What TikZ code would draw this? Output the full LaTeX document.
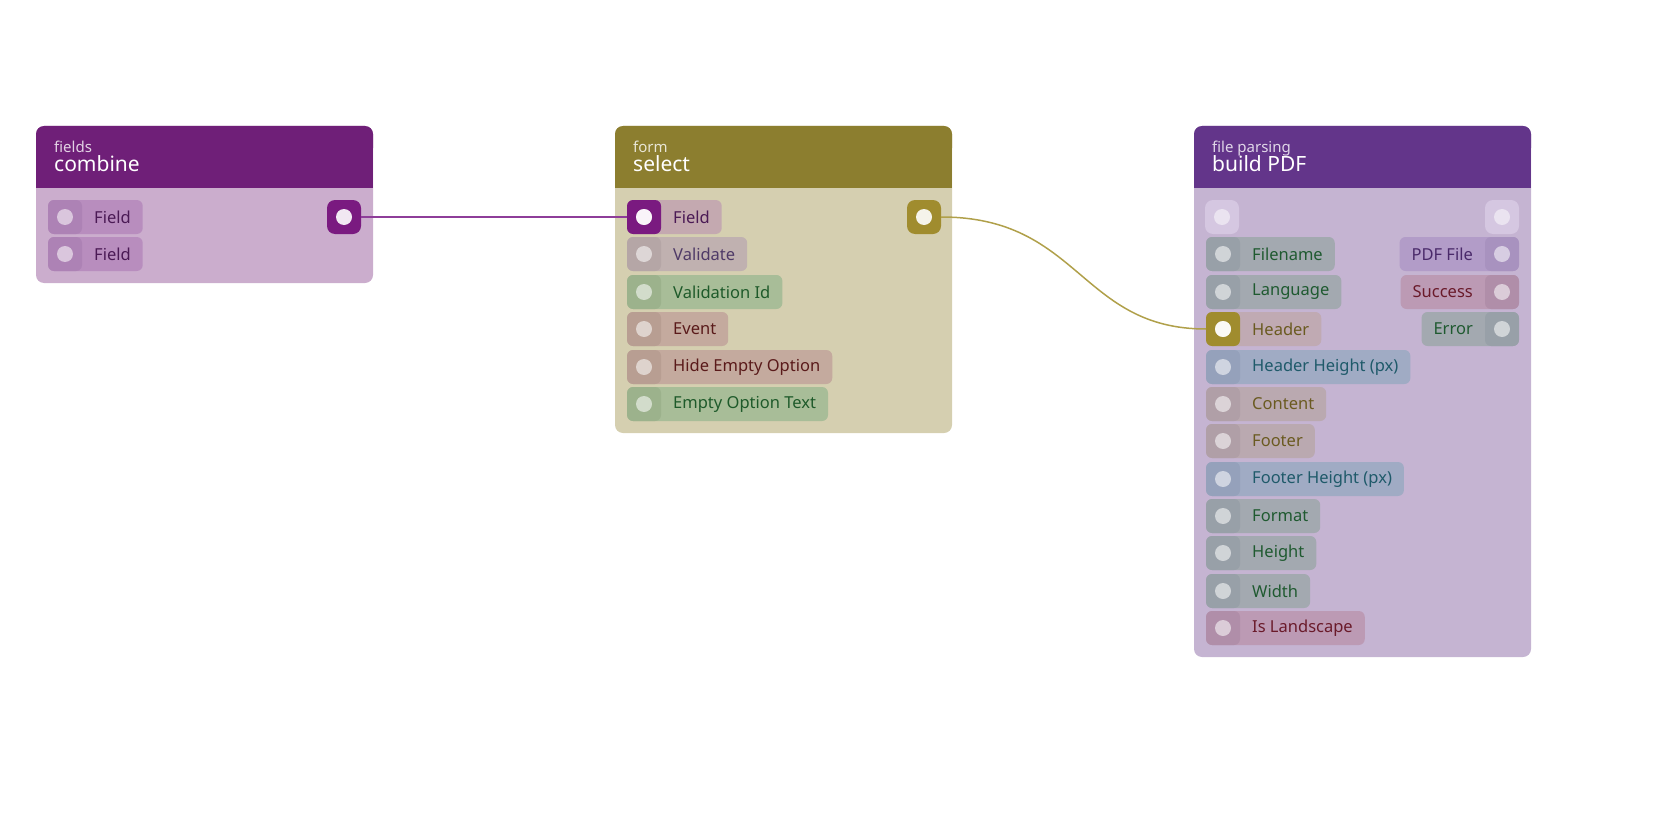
\documentclass[tikz,border=0pt]{standalone}
\usepackage{fontspec}
\setmainfont{Noto Sans}
\definecolor{hA}{HTML}{6F1F78}\definecolor{bA}{HTML}{CBADCD}
\definecolor{hB}{HTML}{8C7E2F}\definecolor{bB}{HTML}{D5CFB0}
\definecolor{hC}{HTML}{63358A}\definecolor{bC}{HTML}{C5B4D2}
\definecolor{pPur}{HTML}{B88DBE}\definecolor{qPur}{HTML}{AD82B5}\definecolor{tPur}{HTML}{4B1A55}
\definecolor{pVal}{HTML}{C0B1B0}\definecolor{qVal}{HTML}{B5A6A6}\definecolor{tVal}{HTML}{4F3A67}
\definecolor{pGrn}{HTML}{A8BD98}\definecolor{qGrn}{HTML}{9CB28C}\definecolor{tGrn}{HTML}{1E5A2A}
\definecolor{pEvt}{HTML}{C4AA9E}\definecolor{qEvt}{HTML}{B89E92}\definecolor{tEvt}{HTML}{5A1A1A}
\definecolor{pFld}{HTML}{C4A9B0}\definecolor{qFld}{HTML}{7A1A80}
\definecolor{pGry}{HTML}{A3A9B0}\definecolor{qGry}{HTML}{98A0A8}\definecolor{tGry}{HTML}{1F5A30}
\definecolor{pHdr}{HTML}{C0AAB3}\definecolor{qHdr}{HTML}{A08C2E}\definecolor{tHdr}{HTML}{6A5A20}
\definecolor{pCnt}{HTML}{BAA9B0}\definecolor{qCnt}{HTML}{B09FA7}
\definecolor{pBlu}{HTML}{A0ABC4}\definecolor{qBlu}{HTML}{95A1BB}\definecolor{tBlu}{HTML}{1F5A6A}
\definecolor{pRed}{HTML}{BC9AB4}\definecolor{qRed}{HTML}{B08EA9}\definecolor{tRed}{HTML}{6A1A2A}
\definecolor{pPdf}{HTML}{B29CC8}\definecolor{qPdf}{HTML}{A892BF}\definecolor{tPdf}{HTML}{4A2A6A}
\definecolor{pEmp}{HTML}{D5C7E1}
\definecolor{eA}{HTML}{8E3E99}\definecolor{eB}{HTML}{B0A04A}
\begin{document}
\begin{tikzpicture}[x=1pt,y=-1pt,
  pill/.style={rounded corners=6pt,minimum height=34pt,inner ysep=0pt,inner xsep=12pt,font=\fontsize{16.5}{16.5}\selectfont}]
\useasboundingbox (0,0) rectangle (1680,840);
\newcommand\PL[7]{% x y text fill port textcol name
  \node[pill,fill=#4,text=#6,anchor=west] (#7) at (#1,#2) {\hspace*{34pt}#3};
  \fill[#5,rounded corners=6pt] (#1,#2-17) rectangle (#1+34,#2+17);
  \fill[white,opacity=.55] (#1+17,#2) circle (8);}
\newcommand\PR[7]{%
  \node[pill,fill=#4,text=#6,anchor=east] (#7) at (#1,#2) {#3\hspace*{34pt}};
  \fill[#5,rounded corners=6pt] (#1-34,#2-17) rectangle (#1,#2+17);
  \fill[white,opacity=.55] (#1-17,#2) circle (8);}
\newcommand\PORT[5]{% x y fill dotopacity name
  \node[fill=#3,rounded corners=8pt,minimum size=34pt,inner sep=0pt] (#5) at (#1,#2) {};
  \fill[white,opacity=#4] (#1,#2) circle (8);}
\newcommand\NODE[8]{% x1 y1 x2 y2 head body category title
  \fill[#6,rounded corners=8pt] (#1,#2) rectangle (#3,#4);
  \fill[#5,rounded corners=8pt] (#1,#2) rectangle (#3,#2+30);
  \fill[#5] (#1,#2+20) rectangle (#3,#2+62);
  \node[anchor=base west,text=white,opacity=.8,font=\fontsize{15}{15}\selectfont,inner sep=0] at (#1+18,#2+27) {#7};
  \node[anchor=base west,text=white,font=\fontsize{21}{21}\selectfont,inner sep=0] at (#1+18,#2+45) {#8};}
% combine
\NODE{36}{126}{373}{283}{hA}{bA}{fields}{combine}
\PL{48}{217}{Field}{pPur}{qPur}{tPur}{cF1}
\PL{48}{254}{Field}{pPur}{qPur}{tPur}{cF2}
\PORT{344}{217}{qFld}{.9}{cOut}
% select
\NODE{615}{126}{952}{433}{hB}{bB}{form}{select}
\PL{627}{217}{Field}{pFld}{qFld}{tPur}{sF}
\fill[white,opacity=.9] (644,217) circle (8);
\PL{627}{254}{Validate}{pVal}{qVal}{tVal}{sV}
\PL{627}{292}{Validation Id}{pGrn}{qGrn}{tGrn}{sVI}
\PL{627}{329}{Event}{pEvt}{qEvt}{tEvt}{sE}
\PL{627}{367}{Hide Empty Option}{pEvt}{qEvt}{tEvt}{sH}
\PL{627}{404}{Empty Option Text}{pGrn}{qGrn}{tGrn}{sT}
\PORT{924}{217}{qHdr}{.9}{sOut}
% build PDF
\NODE{1194}{126}{1531}{657}{hC}{bC}{file parsing}{build PDF}
\PORT{1222}{217}{pEmp}{.5}{bIn}
\PORT{1502}{217}{pEmp}{.5}{bOut}
\PL{1206}{254}{Filename}{pGry}{qGry}{tGry}{bFn}
\PL{1206}{292}{Language}{pGry}{qGry}{tGry}{bLa}
\PL{1206}{329}{Header}{pHdr}{qHdr}{tHdr}{bHd}
\fill[white,opacity=.9] (1223,329) circle (8);
\PL{1206}{367}{Header Height (px)}{pBlu}{qBlu}{tBlu}{bHH}
\PL{1206}{404}{Content}{pCnt}{qCnt}{tHdr}{bCo}
\PL{1206}{441}{Footer}{pCnt}{qCnt}{tHdr}{bFo}
\PL{1206}{479}{Footer Height (px)}{pBlu}{qBlu}{tBlu}{bFH}
\PL{1206}{516}{Format}{pGry}{qGry}{tGry}{bFm}
\PL{1206}{553}{Height}{pGry}{qGry}{tGry}{bHe}
\PL{1206}{591}{Width}{pGry}{qGry}{tGry}{bWi}
\PL{1206}{628}{Is Landscape}{pRed}{qRed}{tRed}{bLs}
\PR{1519}{254}{PDF File}{pPdf}{qPdf}{tPdf}{bPdf}
\PR{1519}{292}{Success}{pRed}{qRed}{tRed}{bSu}
\PR{1519}{329}{Error}{pGry}{qGry}{tGry}{bEr}
% edges
\draw[eA,line width=1.5pt] (cOut.east) -- (sF.west);
\draw[eB,line width=1.5pt] (sOut.east) .. controls (1080,217) and (1080,329) .. (bHd.west);
\end{tikzpicture}
\end{document}
